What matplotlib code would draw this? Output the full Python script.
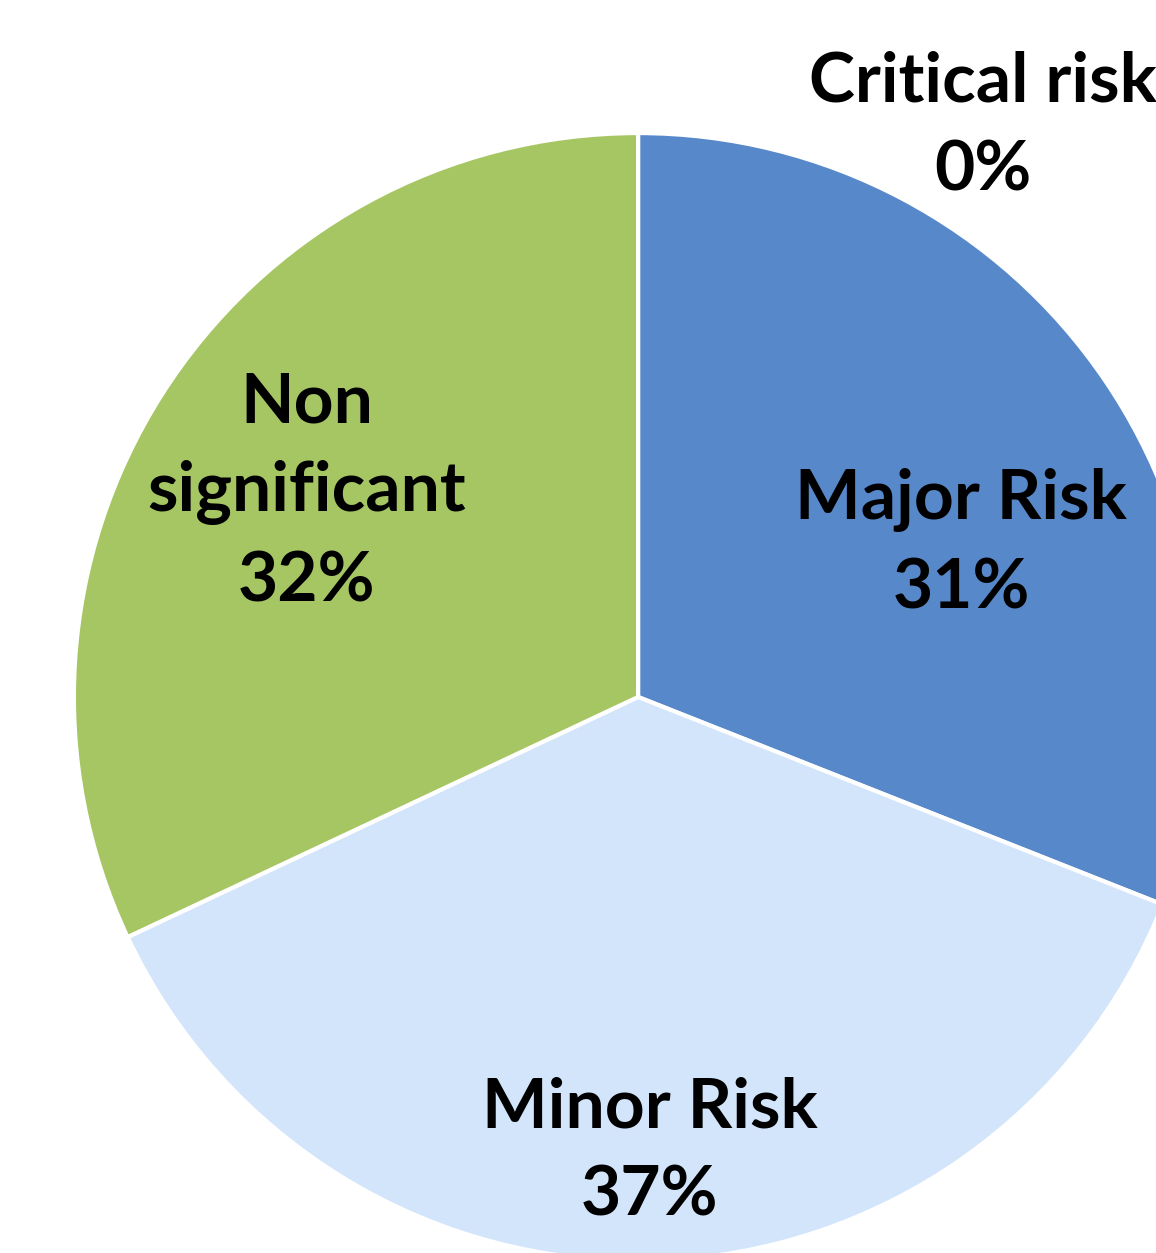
import matplotlib
matplotlib.use("Agg")
import matplotlib.pyplot as plt

# pie data (percent), clockwise from 12 o'clock
categories = ["Critical risk", "Major Risk", "Minor Risk", "Non\nsignificant"]
shares = [0, 31, 37, 32]
colors = ["#C0504D", "#5789CA", "#D3E5FB", "#A6C664"]

# label anchor points (data units, pie radius = 1)
label_pos = [(0.612, 1.012), (0.573, 0.270), (0.021, -0.807), (-0.587, 0.363)]

fig = plt.figure(figsize=(11.56, 12.53), dpi=100)
ax = fig.add_axes([0, 0, 1, 1])

wedges, _ = ax.pie(shares, colors=colors, startangle=90, counterclock=False,
                   radius=1.0, center=(0, 0),
                   wedgeprops=dict(linewidth=3, edgecolor="white"))

ax.set_xlim(-1.131, 0.918)
ax.set_ylim(-0.986, 1.236)
ax.set_aspect("auto")
ax.axis("off")

for name, val, (x, y) in zip(categories, shares, label_pos):
    ax.text(x, y, "%s\n%d%%" % (name, val), ha="center", va="center",
            fontsize=50, fontweight="bold", family=["Lato", "DejaVu Sans"],
            linespacing=1.5, color="black")

fig.savefig("out.png", dpi=100)
